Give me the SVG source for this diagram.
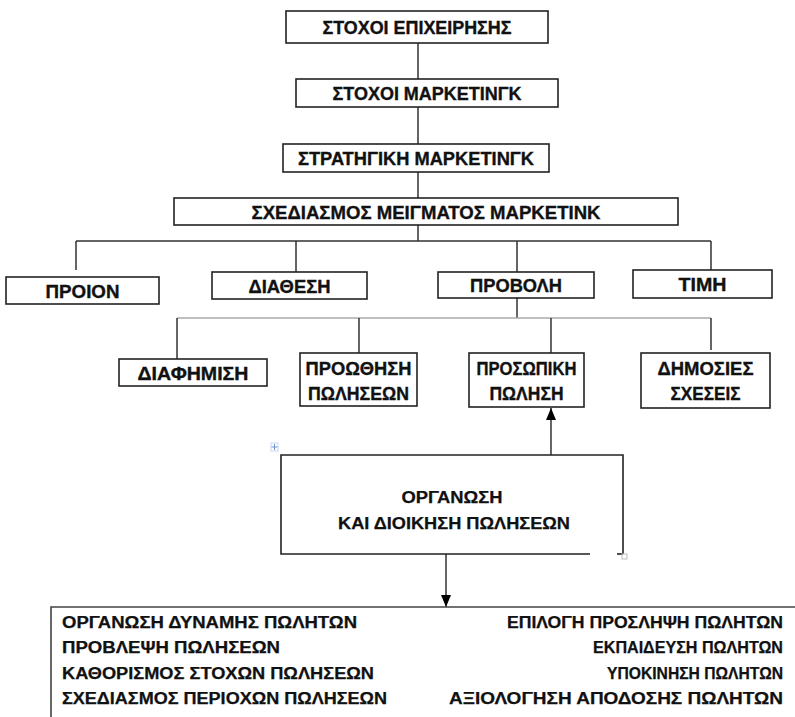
<svg xmlns="http://www.w3.org/2000/svg" width="795" height="717" viewBox="0 0 795 717">
<defs>
<style>
.box{fill:#fff;stroke:#222;stroke-width:1.6}
.lbl{font-family:"Liberation Sans",Arial,sans-serif;font-weight:bold;font-size:18.5px;fill:#111;stroke:#111;stroke-width:0.35;text-anchor:middle}
.txt{font-family:"Liberation Sans",Arial,sans-serif;font-weight:bold;font-size:16px;fill:#111;stroke:#111;stroke-width:0.25}
.con{fill:none;stroke:#333;stroke-width:1.5}
.lite{fill:none;stroke:#aaa;stroke-width:1.5}
</style>
<marker id="ah" markerWidth="12" markerHeight="10" refX="12" refY="5" orient="auto" markerUnits="userSpaceOnUse" viewBox="0 0 12 10">
<path d="M0 0 L12 5 L0 10 Z" fill="#000"/>
</marker>
</defs>
<rect width="795" height="717" fill="#fff"/>

<g id="connectors">
<path class="con" d="M418 43V79M418 107V144M418 172V198M418 225V241"/>
<path class="con" d="M76 241H711M76 241V270M296 241V272M517 241V272M711 241V270"/>
<path class="con" d="M517 298V318"/>
<path class="lite" d="M177 318H711"/>
<path class="con" d="M177 318V359M359 318V362M551 318V353M711 318V350"/>
<path class="con" d="M551 455V408" marker-end="url(#ah)"/>
<path class="con" d="M446 554V607" marker-end="url(#ah)"/>
</g>

<g id="n1"><rect class="box" x="286" y="11" width="262" height="32"/><text class="lbl" x="417" y="34" textLength="189" lengthAdjust="spacingAndGlyphs">ΣΤΟΧΟΙ ΕΠΙΧΕΙΡΗΣΗΣ</text></g>
<g id="n2"><rect class="box" x="296" y="79" width="262" height="28"/><text class="lbl" x="427" y="100" textLength="189" lengthAdjust="spacingAndGlyphs">ΣΤΟΧΟΙ ΜΑΡΚΕΤΙΝΓΚ</text></g>
<g id="n3"><rect class="box" x="283" y="144" width="266" height="28"/><text class="lbl" x="416" y="165" textLength="236" lengthAdjust="spacingAndGlyphs">ΣΤΡΑΤΗΓΙΚΗ ΜΑΡΚΕΤΙΝΓΚ</text></g>
<g id="n4"><rect class="box" x="174" y="198" width="504" height="27"/><text class="lbl" x="426" y="218.5" textLength="349" lengthAdjust="spacingAndGlyphs">ΣΧΕΔΙΑΣΜΟΣ ΜΕΙΓΜΑΤΟΣ ΜΑΡΚΕΤΙΝΚ</text></g>

<g id="n5"><rect class="box" x="6" y="277" width="153" height="27"/><text class="lbl" x="82.5" y="297.5" textLength="74" lengthAdjust="spacingAndGlyphs">ΠΡΟΙΟΝ</text></g>
<g id="n6"><rect class="box" x="212" y="272" width="155" height="27"/><text class="lbl" x="289.5" y="292.5" textLength="82" lengthAdjust="spacingAndGlyphs">ΔΙΑΘΕΣΗ</text></g>
<g id="n7"><rect class="box" x="438" y="272" width="156" height="26"/><text class="lbl" x="516" y="292" textLength="92" lengthAdjust="spacingAndGlyphs">ΠΡΟΒΟΛΗ</text></g>
<g id="n8"><rect class="box" x="633" y="270" width="139" height="28"/><text class="lbl" x="702.5" y="291" textLength="48" lengthAdjust="spacingAndGlyphs">ΤΙΜΗ</text></g>

<g id="n9"><rect class="box" x="119" y="359" width="148" height="27"/><text class="lbl" x="193" y="379.5" textLength="111" lengthAdjust="spacingAndGlyphs">ΔΙΑΦΗΜΙΣΗ</text></g>
<g id="n10"><rect class="box" x="300" y="353" width="117" height="53"/><text class="lbl" x="358.5" y="375" textLength="106" lengthAdjust="spacingAndGlyphs">ΠΡΟΩΘΗΣΗ</text><text class="lbl" x="358.5" y="400" textLength="101" lengthAdjust="spacingAndGlyphs">ΠΩΛΗΣΕΩΝ</text></g>
<g id="n11"><rect class="box" x="469" y="353" width="115" height="54"/><text class="lbl" x="526.5" y="375" textLength="100" lengthAdjust="spacingAndGlyphs">ΠΡΟΣΩΠΙΚΗ</text><text class="lbl" x="526.5" y="400" textLength="74" lengthAdjust="spacingAndGlyphs">ΠΩΛΗΣΗ</text></g>
<g id="n12"><rect class="box" x="641" y="353" width="129" height="55"/><text class="lbl" x="705.5" y="375" textLength="96" lengthAdjust="spacingAndGlyphs">ΔΗΜΟΣΙΕΣ</text><text class="lbl" x="705.5" y="400" textLength="70" lengthAdjust="spacingAndGlyphs">ΣΧΕΣΕΙΣ</text></g>

<g id="n13">
<path class="box" d="M590 554H281V455H623V554" fill="#fff"/>
<path d="M617 554H623" stroke="#222" stroke-width="1.6"/>
<rect x="622" y="554" width="5" height="5" fill="none" stroke="#bbb" stroke-width="1"/>
<g stroke="#6a8fd0" stroke-width="1" fill="none"><rect x="271" y="443" width="7" height="8" stroke="#c9d6ee"/><path d="M274.5 444V450M271.5 447H277.5"/></g>
<text class="txt" x="452" y="503" text-anchor="middle" textLength="101" lengthAdjust="spacingAndGlyphs" font-size="17">ΟΡΓΑΝΩΣΗ</text>
<text class="txt" x="454" y="529" text-anchor="middle" textLength="232" lengthAdjust="spacingAndGlyphs" font-size="17">ΚΑΙ ΔΙΟΙΚΗΣΗ ΠΩΛΗΣΕΩΝ</text>
</g>

<g id="n14">
<path d="M51 717V607H795" fill="none" stroke="#444" stroke-width="1.6"/>
<text class="txt" x="62" y="628" textLength="295" lengthAdjust="spacingAndGlyphs">ΟΡΓΑΝΩΣΗ ΔΥΝΑΜΗΣ ΠΩΛΗΤΩΝ</text>
<text class="txt" x="62" y="653" textLength="218" lengthAdjust="spacingAndGlyphs">ΠΡΟΒΛΕΨΗ ΠΩΛΗΣΕΩΝ</text>
<text class="txt" x="62" y="679" textLength="312" lengthAdjust="spacingAndGlyphs">ΚΑΘΟΡΙΣΜΟΣ ΣΤΟΧΩΝ ΠΩΛΗΣΕΩΝ</text>
<text class="txt" x="62" y="704" textLength="325" lengthAdjust="spacingAndGlyphs">ΣΧΕΔΙΑΣΜΟΣ ΠΕΡΙΟΧΩΝ ΠΩΛΗΣΕΩΝ</text>
<text class="txt" x="783" y="628" text-anchor="end" textLength="276" lengthAdjust="spacingAndGlyphs">ΕΠΙΛΟΓΗ ΠΡΟΣΛΗΨΗ ΠΩΛΗΤΩΝ</text>
<text class="txt" x="783" y="653" text-anchor="end" textLength="190" lengthAdjust="spacingAndGlyphs">ΕΚΠΑΙΔΕΥΣΗ ΠΩΛΗΤΩΝ</text>
<text class="txt" x="783" y="679" text-anchor="end" textLength="176" lengthAdjust="spacingAndGlyphs">ΥΠΟΚΙΝΗΣΗ ΠΩΛΗΤΩΝ</text>
<text class="txt" x="783" y="704" text-anchor="end" textLength="334" lengthAdjust="spacingAndGlyphs">ΑΞΙΟΛΟΓΗΣΗ ΑΠΟΔΟΣΗΣ ΠΩΛΗΤΩΝ</text>
</g>
</svg>
